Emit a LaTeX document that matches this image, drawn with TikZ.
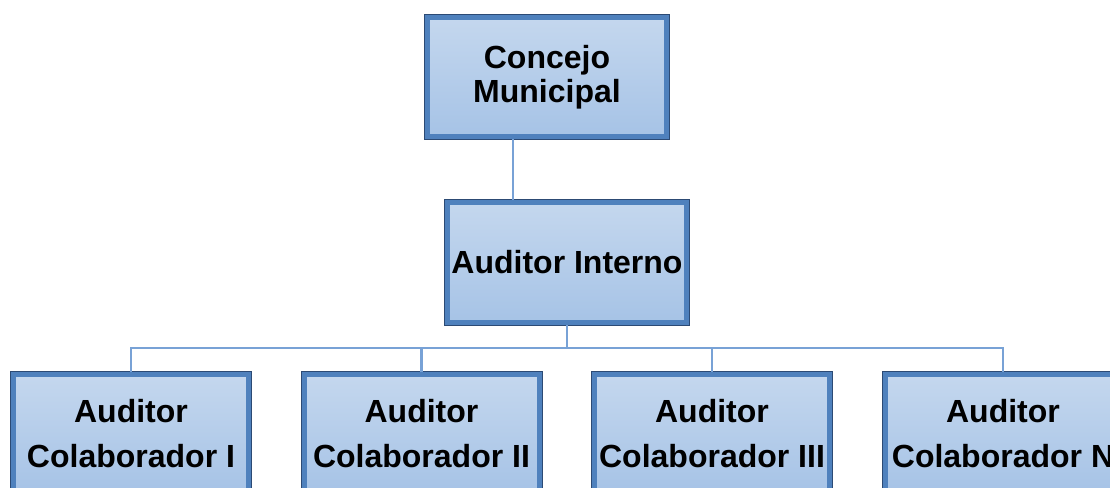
\documentclass[tikz,border=0pt]{standalone}
\usepackage{fontspec}
\setmainfont{Liberation Sans}
\usepackage{xcolor}
\usepackage{tikz}
\definecolor{bandblue}{HTML}{4F81BD}
\definecolor{edgedark}{HTML}{2C4A74}
\definecolor{filltop}{HTML}{C4D7EE}
\definecolor{fillbot}{HTML}{A6C3E6}
\definecolor{linkblue}{HTML}{78A2D6}

\begin{document}
\begin{tikzpicture}[x=1pt, y=-1pt,
        cargo/.style={preaction={draw=edgedark, line width=7pt}, draw=bandblue, line width=5pt,
            top color=filltop, bottom color=fillbot, minimum width=239pt, minimum height=119pt,
            inner sep=2pt, align=center, font=\bfseries\fontsize{32}{34}\selectfont},
        colab/.style={cargo, minimum width=235pt, font=\bfseries\fontsize{32}{45}\selectfont},
        link/.style={draw=linkblue, line width=2.2pt}]
                \clip (0, 0) rectangle (1110, 487);

                % cargos
                \node[cargo] (concejo) at (547, 77) {Concejo\\Municipal};
                \node[cargo, minimum height=120pt] (interno) at (567, 262.5) {Auditor Interno};
                \node[colab] (col1) at (131, 434) {Auditor\\Colaborador I};
                \node[colab] (col2) at (421.5, 434) {Auditor\\Colaborador II};
                \node[colab] (col3) at (712, 434) {Auditor\\Colaborador III};
                \node[colab] (colN) at (1003, 434) {Auditor\\Colaborador N};

                % lineas
                \coordinate (tap) at (513, 0);
                \coordinate (bar) at (0, 348);
                \draw[link] (concejo.south -| tap) -- (interno.north -| tap);
                \draw[link] (interno.south) -- (interno.south |- bar);
                \draw[link, line cap=rect] (col1.north |- bar) -- (colN.north |- bar);
                \foreach \c in {col1, col2, col3, colN}
                    \draw[link] (\c.north |- bar) -- (\c.north);
            \end{tikzpicture}
\end{document}
